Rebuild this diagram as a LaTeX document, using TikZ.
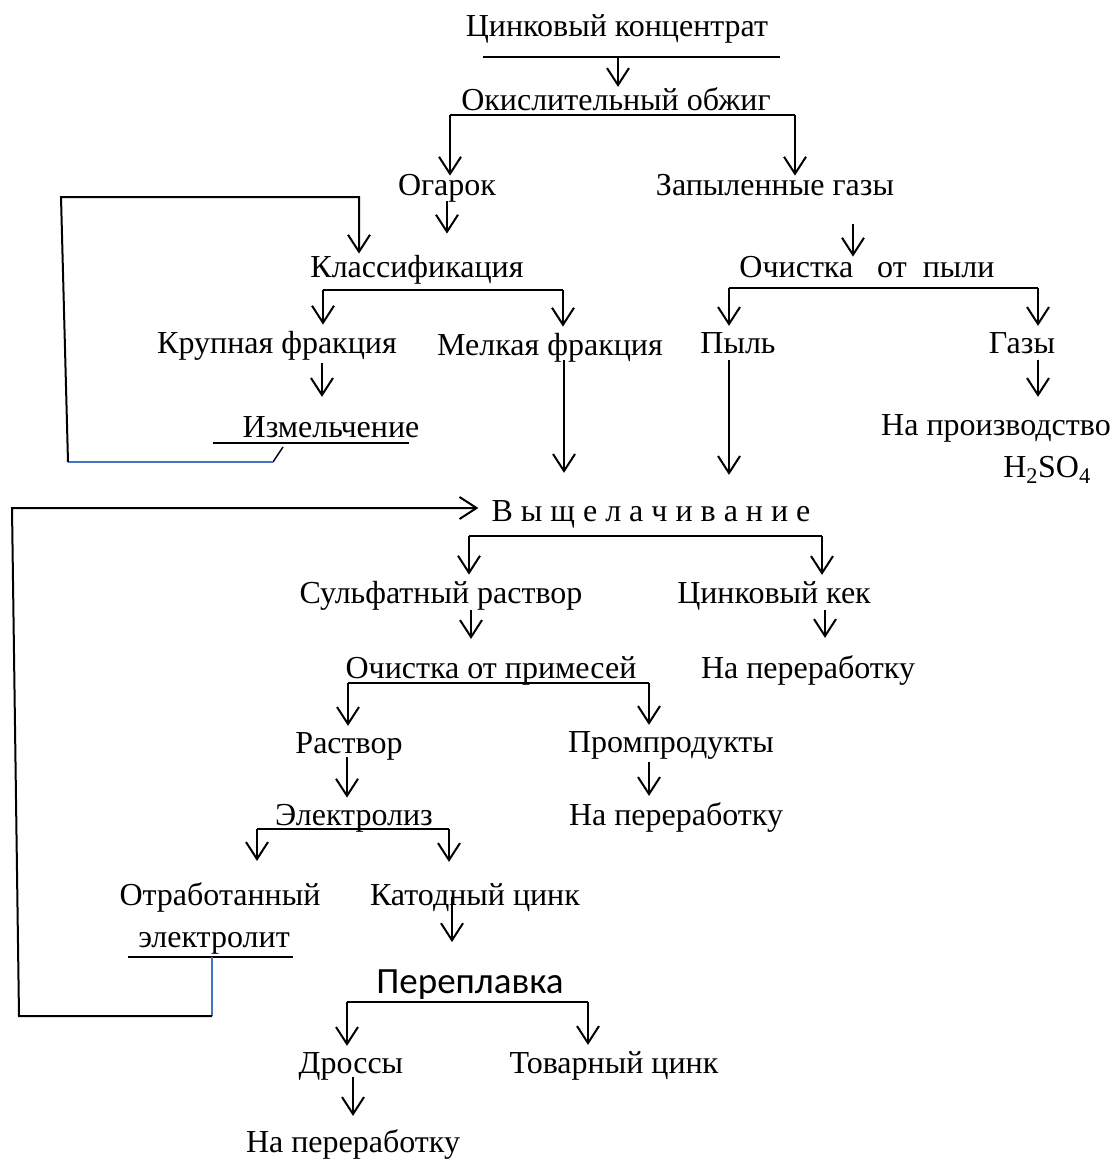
\documentclass[tikz,border=0pt]{standalone}
\usepackage{fontspec}
\setmainfont{Liberation Serif}
\newfontfamily\calibri{Carlito}
\usetikzlibrary{arrows.meta,calc}
\definecolor{wordblue}{RGB}{68,114,196}

\tikzstyle{stage}=[font=\fontsize{32}{36}\selectfont, inner xsep=0pt, inner ysep=6pt, anchor=base]
\tikzstyle{flow}=[draw, line width=2pt, -{Straight Barb[length=17pt,width=22pt]}]
\tikzstyle{bar}=[draw, line width=2pt]
\tikzstyle{back}=[draw, line width=1.4pt, wordblue]

\begin{document}
\begin{tikzpicture}[x=1pt,y=-1pt]
  \useasboundingbox (0,0) rectangle (1113,1164);
  % First we place the stages (centre x / baseline)
  \foreach \pos/\name/\txt in {
      {(617,37)/conc/Цинковый концентрат}, {(616,110)/roast/Окислительный обжиг},
      {(447,195)/cinder/Огарок}, {(775,195)/dgas/Запыленные газы},
      {(417,277)/classif/Классификация}, {(867,277)/clean/Очистка\ \ \ от\ \ пыли},
      {(277,353)/coarse/Крупная фракция}, {(550,355)/fine/Мелкая фракция},
      {(738,353)/dust/Пыль}, {(1022,353)/gases/Газы},
      {(331,437)/grind/Измельчение}, {(996,435)/prod/На производство},
      {(651,521)/leach/В ы щ е л а ч и в а н и е},
      {(441,603)/sulf/Сульфатный раствор}, {(774,603)/cake/Цинковый кек},
      {(491,678)/purif/Очистка от примесей}, {(808,678)/recycA/На переработку},
      {(349,753)/sol/Раствор}, {(671,752)/midp/Промпродукты},
      {(354,825)/elec/Электролиз}, {(676,825)/recycB/На переработку},
      {(220,905)/spent/Отработанный}, {(214,947)/spentb/электролит},
      {(475,905)/cath/Катодный цинк},
      {(351,1073)/dross/Дроссы}, {(614,1073)/zinc/Товарный цинк},
      {(353,1152)/recycC/На переработку}}
    \node[stage] (\name) at \pos {\txt};
  \node[stage] (acid) at (1047,477) {H\textsubscript{2}SO\textsubscript{4}};
  \node[stage, font=\calibri\fontsize{37}{40}\selectfont] (remelt) at (470,993) {Переплавка};

  % Branch points under the stages
  \foreach \name/\x/\y in {concL/483/57, concR/780/57, concM/618/57,
      roastL/450/115, roastR/795/115,
      clsL/323/290, clsR/563/290,
      cleanL/729/288, cleanR/1038/288,
      leachL/469/536, leachR/822/536,
      purL/348/683, purR/649/683,
      elL/257/829, elR/449/829,
      remL/347/1002, remR/588/1002}
    \coordinate (\name) at (\x,\y);

  \path[bar] (concL) -- (concR);
  \path[bar] (roastL) -- (roastR);
  \path[bar] (clsL) -- (clsR);
  \path[bar] (cleanL) -- (cleanR);
  \path[bar] (leachL) -- (leachR);
  \path[bar] (purL) -- (purR);
  \path[bar] (elL) -- (elR);
  \path[bar] (remL) -- (remR);

  % Arrows from the branch lines down to the stages
  \foreach \src/\dst in {clsL/coarse, clsR/fine, cleanL/dust, cleanR/gases,
      leachL/sulf, leachR/cake, purL/sol, purR/midp,
      remL/dross, remR/zinc}
    \path[flow] (\src) -- (\src |- \dst.north);
  \path[flow, shorten >=-6pt] (concM) -- (concM |- roast.north);
  \path[flow, shorten >=-8pt] (roastL) -- (roastL |- cinder.north);
  \path[flow, shorten >=-8pt] (roastR) -- (roastR |- dgas.north);
  \path[flow, shorten >=15pt] (elL) -- (elL |- spent.north);
  \path[flow, shorten >=15pt] (elR) -- (elR |- cath.north);

  % Arrows from one stage to the next
  \path[flow, shorten <=-7pt, shorten >=15pt] (cinder.south) -- (cinder.south |- classif.north);
  \path[flow, shorten <=22pt, shorten >=-7pt] (853,0 |- dgas.south) -- (853,0 |- clean.north);
  \path[flow, shorten <=-3pt, shorten >=13pt] (322,0 |- coarse.south) -- (322,0 |- grind.north);
  \path[flow, shorten >=19pt] (729,0 |- dust.south) -- (729,0 |- leach.north);
  \path[flow, shorten <=-8pt, shorten >=21pt] (564,0 |- fine.south) -- (564,0 |- leach.north);
  \path[flow, shorten >=11pt] (1038,0 |- gases.south) -- (1038,0 |- prod.north);
  \path[flow, shorten <=-6pt, shorten >=11pt] (471,0 |- sulf.south) -- (471,0 |- purif.north);
  \path[flow, shorten <=-6pt, shorten >=11pt] (825,0 |- cake.south) -- (825,0 |- recycA.north);
  \path[flow, shorten <=-9pt] (347,0 |- sol.south) -- (347,0 |- elec.north);
  \path[flow, shorten <=-3pt] (649,0 |- midp.south) -- (649,0 |- recycB.north);
  \path[flow, shorten <=-20pt, shorten >=21pt] (452,0 |- cath.south) -- (452,0 |- remelt.north);
  \path[flow, shorten <=-9pt, shorten >=7pt] (353,0 |- dross.south) -- (353,0 |- recycC.north);

  % Return of the coarse fraction
  \coordinate (grindA) at (213,443);
  \coordinate (grindB) at (409,443);
  \coordinate (grindK) at (283,447);
  \coordinate (retA) at (273,462);
  \coordinate (retB) at (68,462);
  \coordinate (retC) at (61,197);
  \coordinate (retD) at (359,197);
  \path[bar] (grindA) -- (grindB);
  \path[draw, line width=1.4pt] (grindK) -- (retA);
  \path[back] (retA) -- (retB);
  \path[flow, shorten >=-5pt] (retB) -- (retC) -- (retD) -- (retD |- classif.north);

  % Return of the spent electrolyte
  \coordinate (spA) at (128,957);
  \coordinate (spB) at (293,957);
  \coordinate (spM) at (212,957);
  \coordinate (spD) at (212,1016);
  \coordinate (spE) at (19,1016);
  \coordinate (spF) at (12,508);
  \path[bar] (spA) -- (spB);
  \path[back] (spM) -- (spD);
  \path[flow, shorten >=13pt] (spD) -- (spE) -- (spF) -- (spF -| leach.west);
\end{tikzpicture}
\end{document}
